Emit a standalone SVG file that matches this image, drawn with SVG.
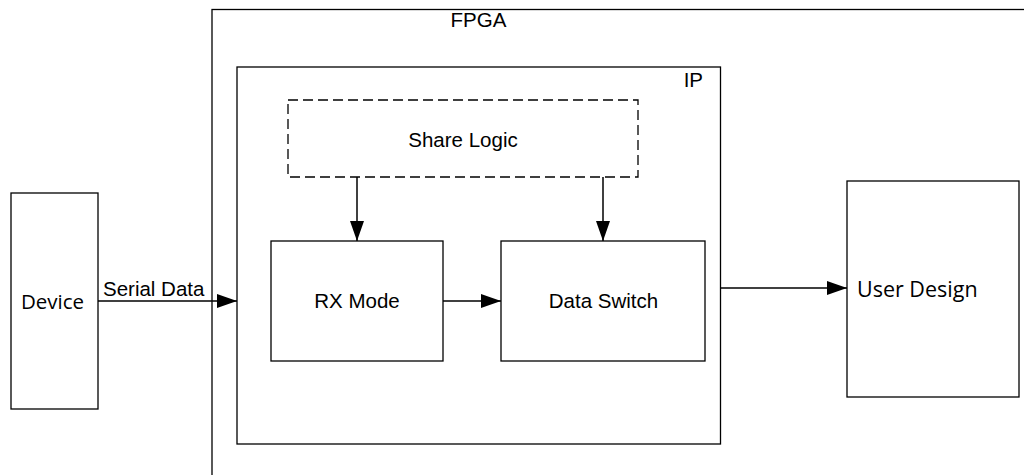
<svg xmlns="http://www.w3.org/2000/svg" width="1024" height="475" viewBox="0 0 1024 475">
<style>
.box{fill:#fff;stroke:#000;stroke-width:1.3}
.dash{fill:#fff;stroke:#000;stroke-width:1.3;stroke-dasharray:10 5}
.t{font-family:"Liberation Sans",Arial,sans-serif;font-size:20.5px;fill:#000}
.o{font-family:"Open Sans","Noto Sans",sans-serif;font-size:20.5px;fill:#000}
.c{fill:none;stroke:#000;stroke-width:1.5}
</style>
<defs>
<marker id="ah" markerWidth="20" markerHeight="14" refX="20" refY="7" orient="auto" markerUnits="userSpaceOnUse">
<path d="M0,0 L20,7 L0,14 Z" fill="#000"/>
</marker>
</defs>
<rect width="1024" height="475" fill="#fff"/>
<g id="fpga">
<rect class="box" x="212" y="9.5" width="900" height="600"/>
<text class="t" x="478.5" y="27" text-anchor="middle">FPGA</text>
</g>
<g id="ip">
<rect class="box" x="237" y="67" width="483.5" height="377"/>
<text class="t" x="703" y="87" text-anchor="end">IP</text>
</g>
<g id="share-logic">
<rect class="dash" x="288" y="100" width="350" height="77"/>
<text class="t" x="463" y="147" text-anchor="middle">Share Logic</text>
</g>
<g id="rx-mode">
<rect class="box" x="271" y="241" width="172" height="120"/>
<text class="t" x="357" y="308" text-anchor="middle">RX Mode</text>
</g>
<g id="data-switch">
<rect class="box" x="501" y="241" width="204" height="120"/>
<text class="t" x="603.5" y="308" text-anchor="middle">Data Switch</text>
</g>
<g id="device">
<rect class="box" x="11" y="193" width="87" height="216"/>
<text class="o" x="52.5" y="309" text-anchor="middle">Device</text>
</g>
<g id="user-design">
<rect class="box" x="847" y="181" width="172" height="216"/>
<text class="o" x="857" y="297" style="font-size:21.5px">User Design</text>
</g>
<g id="connectors">
<line class="c" x1="98" y1="301" x2="237" y2="301" marker-end="url(#ah)"/>
<text class="t" x="103" y="296">Serial Data</text>
<line class="c" x1="357" y1="177" x2="357" y2="241" marker-end="url(#ah)"/>
<line class="c" x1="603" y1="177" x2="603" y2="241" marker-end="url(#ah)"/>
<line class="c" x1="443" y1="301" x2="501" y2="301" marker-end="url(#ah)"/>
<line class="c" x1="720.5" y1="288" x2="847" y2="288" marker-end="url(#ah)"/>
</g>
</svg>
